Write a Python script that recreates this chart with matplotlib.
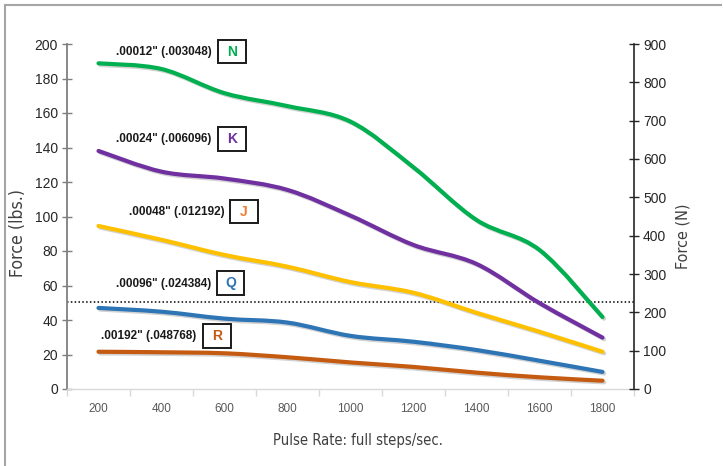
import numpy as np
import matplotlib
matplotlib.use("Agg")
import matplotlib.pyplot as plt
from matplotlib.path import Path
from matplotlib.patches import PathPatch, Rectangle
import matplotlib.patheffects as pe
from matplotlib import font_manager

plt.rcParams['font.family'] = ['Liberation Sans', 'DejaVu Sans']

# ---- data ----
pulse_rate = [200, 400, 600, 800, 1000, 1200, 1400, 1600, 1800]
force_N_curve = [188.8, 185.5, 171.5, 164.0, 155.0, 128.5, 98.0, 80.6, 41.7]
force_K_curve = [138.0, 126.0, 122.0, 115.4, 100.5, 83.5, 72.5, 49.8, 29.8]
force_J_curve = [94.5, 86.5, 77.7, 70.9, 62.0, 55.8, 44.2, 33.2, 21.6]
force_Q_curve = [47.0, 44.8, 40.8, 38.5, 30.8, 27.4, 22.6, 16.4, 9.9]
force_R_curve = [21.6, 21.3, 20.7, 18.4, 15.4, 12.8, 9.5, 6.8, 4.8]
series_names = ['N', 'K', 'J', 'Q', 'R']
series_labels = ['.00012" (.003048)', '.00024" (.006096)', '.00048" (.012192)',
                 '.00096" (.024384)', '.00192" (.048768)']
threshold_lbs = 50.6
left_ticks = [0, 20, 40, 60, 80, 100, 120, 140, 160, 180, 200]
right_ticks = [0, 100, 200, 300, 400, 500, 600, 700, 800, 900]

line_colors = ['#00b050', '#7030a0', '#ffc000', '#2e75b6', '#c55a11']
letter_colors = ['#00b050', '#7030a0', '#ed7d31', '#2e75b6', '#c55a11']

W, H = 723, 466
fig = plt.figure(figsize=(W / 100, H / 100), dpi=100)

def fx(x):
    return x / W

def fy(y):
    return 1 - y / H

ax = fig.add_axes([fx(67), fy(389), (634 - 67) / W, (389 - 44) / H])
ax.set_xlim(100, 1900)
ax.set_ylim(0, 200)

def smooth_path(xs, ys):
    pts = np.column_stack([xs, ys]).astype(float)
    n = len(pts)
    verts = [pts[0]]
    codes = [Path.MOVETO]
    for i in range(n - 1):
        p0 = pts[i - 1] if i > 0 else pts[i]
        p1 = pts[i]
        p2 = pts[i + 1]
        p3 = pts[i + 2] if i + 2 < n else pts[i + 1]
        c1 = p1 + (p2 - p0) / 6.0
        c2 = p2 - (p3 - p1) / 6.0
        verts += [c1, c2, p2]
        codes += [Path.CURVE4] * 3
    return Path(verts, codes)

all_series = [force_N_curve, force_K_curve, force_J_curve, force_Q_curve, force_R_curve]
for ys, c in zip(all_series, line_colors):
    patch = PathPatch(smooth_path(pulse_rate, ys), fill=False, edgecolor=c,
                      lw=3.0, capstyle='round', joinstyle='round', zorder=3)
    patch.set_path_effects([pe.SimpleLineShadow(offset=(1.2, -1.2), shadow_color='#808080', alpha=0.35),
                            pe.Normal()])
    ax.add_patch(patch)

ax.axhline(threshold_lbs, color='black', lw=1.1, ls=(0, (1, 1.5)), zorder=2)

# spines / ticks
for s in ['top', 'right']:
    ax.spines[s].set_visible(False)
ax.spines['left'].set_color('#7f7f7f')
ax.spines['left'].set_linewidth(1.3)
ax.spines['bottom'].set_color('#d9d9d9')
ax.spines['bottom'].set_linewidth(1.0)
ax.set_yticks(left_ticks)
ax.tick_params(axis='y', direction='inout', length=7, width=1, color='#7f7f7f',
               labelsize=10, labelcolor='#262626', pad=3)
ax.set_xticks(pulse_rate)
ax.set_xticks(np.arange(100, 1901, 200), minor=True)
ax.tick_params(axis='x', which='major', length=0, labelsize=8.5, labelcolor='#595959', pad=10)
ax.tick_params(axis='x', which='minor', length=5, width=1, color='#d9d9d9', direction='out')

ax2 = ax.twinx()
ax2.set_ylim(0, 900)
ax2.set_yticks(right_ticks)
for s in ['top', 'left', 'bottom']:
    ax2.spines[s].set_visible(False)
ax2.spines['right'].set_color('#262626')
ax2.spines['right'].set_linewidth(1.2)
ax2.tick_params(axis='y', direction='inout', length=7, width=1, color='#262626',
                labelsize=10, labelcolor='#262626', pad=3)

# pick a condensed family if one is installed
names = {f.name: f for f in font_manager.fontManager.ttflist}
label_kw = dict(family=['Liberation Sans', 'DejaVu Sans'])
if 'Liberation Sans Narrow' in names:
    label_kw = dict(family=['Liberation Sans Narrow', 'Liberation Sans', 'DejaVu Sans'])
else:
    for f in font_manager.fontManager.ttflist:
        if f.name == 'DejaVu Sans' and str(f.stretch) in ('condensed', '500', 'semi-condensed') \
                and 'Condensed' in f.fname and 'Bold' not in f.fname and 'Oblique' not in f.fname:
            label_kw = dict(family=['DejaVu Sans'], fontstretch='condensed')
            break

renderer = fig.canvas.get_renderer()

def fitted_text(x, y, s, target_len, rotation=0):
    t = fig.text(fx(x), fy(y), s, rotation=rotation, ha='center', va='center',
                 fontsize=12, color='#404040', **label_kw)
    bb = t.get_window_extent(renderer)
    cur = bb.height if rotation == 90 else bb.width
    t.set_fontsize(12 * target_len / cur)
    return t

fitted_text(18, 233, 'Force (lbs.)', 88, rotation=90)
fitted_text(683, 236, 'Force (N)', 66, rotation=90)
fitted_text(358, 440, 'Pulse Rate: full steps/sec.', 170)

# annotations (layout positions in pixels)
label_pos = [(212, 52), (211, 139), (225, 212), (211, 284), (196, 336)]
box_pos = [(218, 40, 28, 23), (218, 127, 28, 24), (230, 200, 28, 23),
           (217, 271, 27, 24), (203, 324, 28, 24)]
for lab, name, lc, (tx, ty), (bx, by, bw, bh) in zip(series_labels, series_names,
                                                      letter_colors, label_pos, box_pos):
    fig.text(fx(tx), fy(ty), lab, ha='right', va='center', fontsize=8.5,
             fontweight='bold', color='#1a1a1a')
    fig.patches.append(Rectangle((fx(bx), fy(by + bh)), bw / W, bh / H,
                                 transform=fig.transFigure, fill=True, fc='white',
                                 ec='#1a1a1a', lw=1.4, zorder=5))
    fig.text(fx(bx + bw / 2), fy(by + bh / 2), name, ha='center', va='center',
             fontsize=10, fontweight='bold', color=lc, zorder=6)

# outer frame lines (left and top)
fig.add_artist(plt.Line2D([fx(5), fx(5)], [0, fy(5)], transform=fig.transFigure,
                          color='#a6a6a6', lw=1.5))
fig.add_artist(plt.Line2D([fx(5), fx(721)], [fy(5), fy(5)], transform=fig.transFigure,
                          color='#a6a6a6', lw=1.5))

fig.savefig('out.png', dpi=100)
